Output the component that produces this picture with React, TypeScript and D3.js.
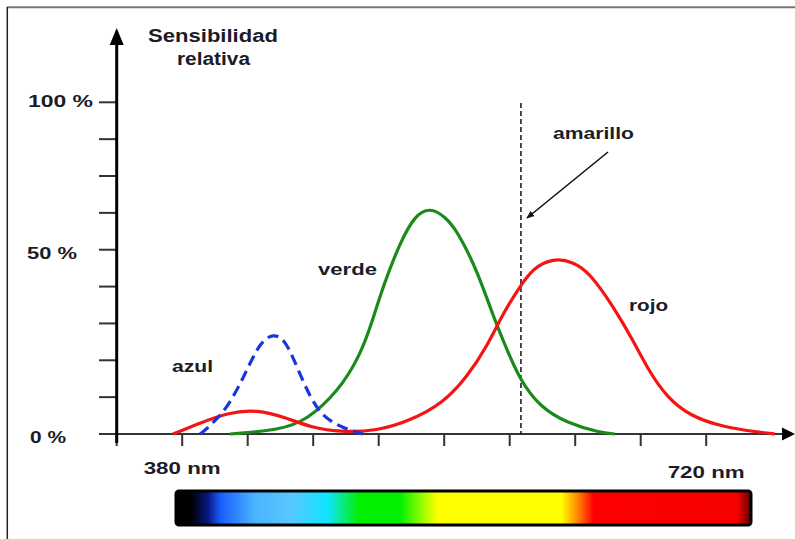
import React from 'react';
import * as d3 from 'd3';

// Wavelength (nm) and relative sensitivity (%)
const blueNm = [391.6, 393.5, 409.1, 422.0, 430.5, 438.9, 446.7, 454.5, 462.9, 471.4, 484.3, 497.3];
const blueVal = [0, 0.6, 7.2, 19.3, 27.6, 30.3, 28.6, 20.2, 11.1, 5.1, 1.8, 0];

const redNm = [374.0, 391.6, 409.1, 428.5, 448.0, 464.9, 482.4, 506.4, 527.8, 549.3, 564.8, 577.8, 588.2, 599.2, 607.7, 620.6, 633.6, 644.6, 659.6, 672.5, 683.5, 694.6, 709.5, 730.9, 753.0, 764.6];
const redVal = [0, 3.3, 6.4, 7.4, 4.8, 1.8, 0.6, 0.9, 4.0, 9.3, 17.2, 26.4, 36.4, 44.5, 50.0, 53.0, 52.0, 48.5, 38.5, 28.3, 18.4, 11.1, 5.4, 2.1, 0.6, 0];

const greenNm = [411.0, 443.5, 461.0, 481.0, 495.4, 503.8, 510.3, 521.4, 531.1, 540.8, 550.6, 558.3, 571.3, 581.7, 590.8, 599.2, 612.2, 629.7, 651.1, 660.8];
const greenVal = [0, 1.2, 4.2, 12.7, 23.5, 34.6, 44.5, 57.8, 66.0, 68.3, 65.5, 61.4, 49.4, 35.6, 25.3, 16.3, 8.1, 3.3, 0.4, 0];

const yellowNm = 599.8;

// axis ticks
const xTickNm = [337.5, 380, 422.5, 465, 507.5, 550, 592.5, 635, 677.5, 720];
const xTickLabels = [{ nm: 380, text: '380 nm' }, { nm: 720, text: '720 nm' }];
const yTickCount = 9;
const yTickLabels = ['0 %', '50 %', '100 %'];
const yTickLabelIdx = [0, 5, 9];

// spectrum bar
const spectrumOffsets = [0, 0.027, 0.057, 0.077, 0.137, 0.2, 0.264, 0.318, 0.39, 0.438, 0.455, 0.67, 0.7, 0.726, 0.975, 1];
const spectrumColors = ['#000000', '#000000', '#0a1a8a', '#1a5cff', '#4ab4ff', '#58c8ff', '#10e4ff', '#00f000', '#00f000', '#c0ff00', '#ffff00', '#ffff00', '#ff8000', '#ff0000', '#f80000', '#600000'];

const W = 795;
const H = 539;
const FONT = "'Liberation Sans', Arial, sans-serif";
const TXT = '#1c1c28';

type Lbl = { text: string; x: number; y: number; w: number; size?: number };

export default function App() {
  const x = d3.scaleLinear().domain([380, 720]).range([182.2, 706.2]);
  const y = d3.scaleLinear().domain([0, 100]).range([434, 102.3]);
  const axisX = x(337.5);
  const axisY = y(0);

  const line = d3
    .line<[number, number]>()
    .x((d) => x(d[0]))
    .y((d) => y(d[1]))
    .curve(d3.curveBasis);

  const pts = (a: number[], b: number[]) => a.map((v, i) => [v, b[i]] as [number, number]);

  const yTicks = d3.range(1, yTickCount + 1).map((i) => (i * 100) / yTickCount);

  const labels: Lbl[] = [
    { text: 'Sensibilidad', x: 148, y: 42, w: 130, size: 18 },
    { text: 'relativa', x: 177, y: 65, w: 73, size: 18 },
    { text: 'azul', x: 172, y: 372, w: 41 },
    { text: 'verde', x: 318, y: 275, w: 59 },
    { text: 'rojo', x: 629, y: 311, w: 39 },
    { text: 'amarillo', x: 553, y: 139, w: 81 },
  ];
  const yLabelPos = [
    { x: 30, y: 443, w: 36 },
    { x: 27, y: 259, w: 50 },
    { x: 28, y: 107, w: 65 },
  ];
  const xLabelPos = [
    { y: 474, w: 77 },
    { y: 478, w: 77 },
  ];

  const barX0 = 176;
  const barX1 = 751;
  const barY0 = 491;
  const barY1 = 525;

  return (
    <svg
      width={W}
      height={H}
      style={{ position: 'absolute', left: 0, top: 0, background: '#fff' }}
      fontFamily={FONT}
    >
      <defs>
        <linearGradient id="spec" x1="0" x2="1" y1="0" y2="0">
          {spectrumOffsets.map((o, i) => (
            <stop key={i} offset={o} stopColor={spectrumColors[i]} />
          ))}
        </linearGradient>
        <marker id="ah" viewBox="0 0 10 10" refX="9" refY="5" markerWidth="8" markerHeight="8" orient="auto" markerUnits="userSpaceOnUse">
          <path d="M0,1 L10,5 L0,9 Z" fill="#111" />
        </marker>
      </defs>
      <rect x={0} y={0} width={W} height={H} fill="#fff" />
      {/* frame */}
      <line x1={7} x2={W} y1={7.3} y2={7.3} stroke="#777" strokeWidth={2} />
      <line x1={7.3} x2={7.3} y1={7} y2={H} stroke="#222" strokeWidth={1.5} />

      {/* y ticks */}
      {yTicks.map((t, i) => (
        <line key={i} x1={99} x2={axisX} y1={y(t)} y2={y(t)} stroke="#333" strokeWidth={2} />
      ))}
      {/* x ticks */}
      {xTickNm.map((t, i) => (
        <line key={i} x1={x(t)} x2={x(t)} y1={axisY} y2={axisY + 12} stroke="#333" strokeWidth={2} />
      ))}
      {/* x axis */}
      <line x1={99} x2={784} y1={axisY} y2={axisY} stroke="#333" strokeWidth={2} />
      <path d={`M${W},${axisY} L${782},${axisY - 6.5} L${782},${axisY + 6.5} Z`} fill="#000" />
      {/* y axis */}
      <line x1={axisX} x2={axisX} y1={443} y2={40} stroke="#000" strokeWidth={3} />
      <path d={`M${axisX},28 L${axisX - 7},45 L${axisX + 7},45 Z`} fill="#000" />

      {/* yellow marker line */}
      <line x1={x(yellowNm)} x2={x(yellowNm)} y1={103} y2={axisY} stroke="#111" strokeWidth={1.5} strokeDasharray="5,3" />
      <line x1={608} y1={152} x2={527} y2={218} stroke="#111" strokeWidth={1.6} markerEnd="url(#ah)" />

      {/* curves */}
      <path d={line(pts(greenNm, greenVal)) || ''} fill="none" stroke="#1b8a1b" strokeWidth={3.2} />
      <path d={line(pts(redNm, redVal)) || ''} fill="none" stroke="#f51414" strokeWidth={3.2} />
      <path d={line(pts(blueNm, blueVal)) || ''} fill="none" stroke="#1a35e0" strokeWidth={3.2} strokeDasharray="11,6" />

      {/* text labels */}
      {labels.map((l, i) => (
        <text key={i} x={l.x} y={l.y} fontSize={l.size ?? 17} fontWeight="bold" fill={TXT} textLength={l.w} lengthAdjust="spacingAndGlyphs">
          {l.text}
        </text>
      ))}
      {yTickLabels.map((t, i) => (
        <text key={i} x={yLabelPos[i].x} y={yLabelPos[i].y} fontSize={17} fontWeight="bold" fill={TXT} textLength={yLabelPos[i].w} lengthAdjust="spacingAndGlyphs" data-tick={yTickLabelIdx[i]}>
          {t}
        </text>
      ))}
      {xTickLabels.map((t, i) => (
        <text key={i} x={x(t.nm)} y={xLabelPos[i].y} fontSize={17} fontWeight="bold" fill={TXT} textAnchor="middle" textLength={xLabelPos[i].w} lengthAdjust="spacingAndGlyphs">
          {t.text}
        </text>
      ))}

      {/* spectrum */}
      <rect x={barX0} y={barY0} width={barX1 - barX0} height={barY1 - barY0} rx={3} fill="url(#spec)" stroke="#000" strokeWidth={3} />
    </svg>
  );
}
